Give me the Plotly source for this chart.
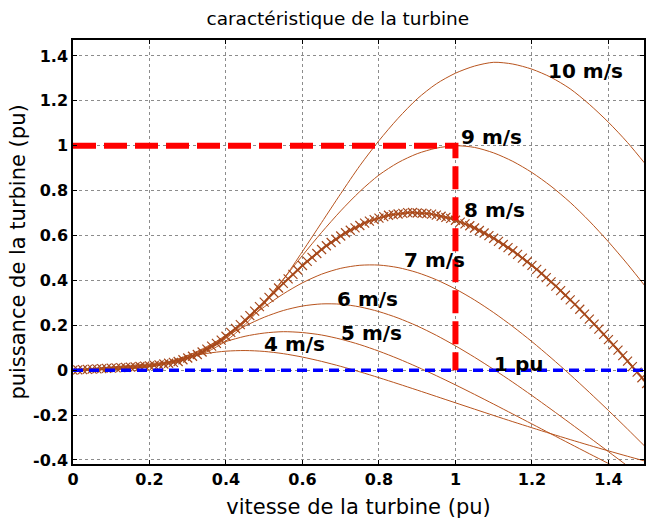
import plotly.graph_objects as go

# ---------------- data ----------------
speed_pu = [0.00, 0.05, 0.10, 0.15, 0.20, 0.25, 0.30, 0.35, 0.40, 0.45,
            0.50, 0.55, 0.60, 0.65, 0.70, 0.75, 0.80, 0.85, 0.90, 0.95,
            1.00, 1.05, 1.10, 1.15, 1.20, 1.25, 1.30, 1.35, 1.40, 1.45, 1.50]

p_4ms = [0, 0.0011, 0.0024, 0.0068, 0.0189, 0.0379, 0.0583, 0.0747, 0.0847, 0.0875,
         0.0835, 0.0735, 0.0583, 0.0392, 0.0170, -0.0074, -0.0335, -0.0608, -0.0887, -0.1170,
         -0.1454, -0.1737, -0.2018, -0.2295, -0.2566, -0.2832, -0.3093, -0.3347, -0.3595, -0.3836, -0.4070]
p_5ms = [0, 0.0018, 0.0035, 0.0069, 0.0163, 0.0369, 0.0661, 0.0983, 0.1278, 0.1511,
         0.1654, 0.1715, 0.1676, 0.1567, 0.1381, 0.1139, 0.0845, 0.0512, 0.0146, -0.0245,
         -0.0655, -0.1080, -0.1513, -0.1954, -0.2397, -0.2840, -0.3283, -0.3722, -0.4157, -0.4588, -0.5012]
p_6ms = [0, 0.0026, 0.0051, 0.0082, 0.0152, 0.0323, 0.0637, 0.1052, 0.1515, 0.1968,
         0.2359, 0.2659, 0.2858, 0.2952, 0.2940, 0.2818, 0.2609, 0.2323, 0.1969, 0.1552,
         0.1084, 0.0575, 0.0032, -0.0537, -0.1131, -0.1742, -0.2365, -0.2995, -0.3630, -0.4269, -0.4908]
p_7ms = [0, 0.0035, 0.0068, 0.0106, 0.0166, 0.0303, 0.0580, 0.1012, 0.1569, 0.2192,
         0.2819, 0.3399, 0.3893, 0.4277, 0.4538, 0.4673, 0.4682, 0.4571, 0.4349, 0.4029,
         0.3617, 0.3126, 0.2565, 0.1944, 0.1271, 0.0552, -0.0202, -0.0987, -0.1796, -0.2625, -0.3472]
p_9ms = [0, 0.0058, 0.0115, 0.0173, 0.0237, 0.0326, 0.0512, 0.0870, 0.1418, 0.2151,
         0.3044, 0.4059, 0.5112, 0.6137, 0.7097, 0.7961, 0.8694, 0.9246, 0.9645, 0.9891,
         1.0000, 0.9924, 0.9679, 0.9302, 0.8805, 0.8194, 0.7475, 0.6644, 0.5720, 0.4722, 0.3658]
p_10ms = [0, 0.0071, 0.0142, 0.0213, 0.0284, 0.0381, 0.0549, 0.0815, 0.1302, 0.2036,
          0.2951, 0.4037, 0.5289, 0.6576, 0.7864, 0.9110, 1.0225, 1.1222, 1.2088, 1.2757,
          1.3231, 1.3549, 1.3716, 1.3638, 1.3410, 1.3045, 1.2534, 1.1845, 1.1045, 1.0140, 0.9114]

# 8 m/s operating curve (densely sampled, drawn with markers)
speed_fine = [0.0000, 0.0125, 0.0250, 0.0375, 0.0500, 0.0625, 0.0750, 0.0875, 0.1000, 0.1125,
              0.1250, 0.1375, 0.1500, 0.1625, 0.1750, 0.1875, 0.2000, 0.2125, 0.2250, 0.2375,
              0.2500, 0.2625, 0.2750, 0.2875, 0.3000, 0.3125, 0.3250, 0.3375, 0.3500, 0.3625,
              0.3750, 0.3875, 0.4000, 0.4125, 0.4250, 0.4375, 0.4500, 0.4625, 0.4750, 0.4875,
              0.5000, 0.5125, 0.5250, 0.5375, 0.5500, 0.5625, 0.5750, 0.5875, 0.6000, 0.6125,
              0.6250, 0.6375, 0.6500, 0.6625, 0.6750, 0.6875, 0.7000, 0.7125, 0.7250, 0.7375,
              0.7500, 0.7625, 0.7750, 0.7875, 0.8000, 0.8125, 0.8250, 0.8375, 0.8500, 0.8625,
              0.8750, 0.8875, 0.9000, 0.9125, 0.9250, 0.9375, 0.9500, 0.9625, 0.9750, 0.9875,
              1.0000, 1.0125, 1.0250, 1.0375, 1.0500, 1.0625, 1.0750, 1.0875, 1.1000, 1.1125,
              1.1250, 1.1375, 1.1500, 1.1625, 1.1750, 1.1875, 1.2000, 1.2125, 1.2250, 1.2375,
              1.2500, 1.2625, 1.2750, 1.2875, 1.3000, 1.3125, 1.3250, 1.3375, 1.3500, 1.3625,
              1.3750, 1.3875, 1.4000, 1.4125, 1.4250, 1.4375, 1.4500, 1.4625, 1.4750, 1.4875,
              1.5000]
p_8ms = [0, 0.0011, 0.0023, 0.0034, 0.0045, 0.0057, 0.0068, 0.0080, 0.0091, 0.0102,
         0.0114, 0.0125, 0.0136, 0.0148, 0.0163, 0.0179, 0.0195, 0.0212, 0.0237, 0.0274,
         0.0310, 0.0347, 0.0386, 0.0464, 0.0542, 0.0620, 0.0698, 0.0810, 0.0939, 0.1068,
         0.1197, 0.1338, 0.1511, 0.1684, 0.1857, 0.2030, 0.2227, 0.2428, 0.2628, 0.2829,
         0.3033, 0.3242, 0.3451, 0.3660, 0.3868, 0.4067, 0.4265, 0.4465, 0.4664, 0.4847,
         0.5024, 0.5200, 0.5376, 0.5543, 0.5687, 0.5833, 0.5978, 0.6122, 0.6232, 0.6339,
         0.6446, 0.6553, 0.6638, 0.6706, 0.6774, 0.6842, 0.6903, 0.6931, 0.6959, 0.6987,
         0.7016, 0.7023, 0.7002, 0.6990, 0.6978, 0.6952, 0.6905, 0.6856, 0.6808, 0.6761,
         0.6679, 0.6597, 0.6515, 0.6433, 0.6334, 0.6221, 0.6110, 0.5997, 0.5879, 0.5739,
         0.5599, 0.5459, 0.5319, 0.5159, 0.4995, 0.4830, 0.4666, 0.4492, 0.4306, 0.4121,
         0.3934, 0.3748, 0.3543, 0.3339, 0.3134, 0.2931, 0.2716, 0.2495, 0.2275, 0.2054,
         0.1831, 0.1596, 0.1362, 0.1127, 0.0893, 0.0650, 0.0404, 0.0158, -0.0088, -0.0338,
         -0.0593]

rated_speed = 1.0
rated_power = 1.0

curve_labels = ["4 m/s", "5 m/s", "6 m/s", "7 m/s", "8 m/s", "9 m/s", "10 m/s", "1 pu"]
label_x = [0.580, 0.780, 0.771, 0.944, 1.103, 1.093, 1.339, 1.165]
label_y = [0.116, 0.164, 0.318, 0.491, 0.713, 1.040, 1.333, 0.029]

x_tickvals = [0, 0.2, 0.4, 0.6, 0.8, 1.0, 1.2, 1.4]
x_ticktext = ["0", "0.2", "0.4", "0.6", "0.8", "1", "1.2", "1.4"]
y_tickvals = [-0.4, -0.2, 0, 0.2, 0.4, 0.6, 0.8, 1.0, 1.2, 1.4]
y_ticktext = ["-0.4", "-0.2", "0", "0.2", "0.4", "0.6", "0.8", "1", "1.2", "1.4"]

# ---------------- styles ----------------
X_RANGE = [0, 1.493]
Y_RANGE = [-0.418, 1.471]
CURVE = "rgb(184,84,30)"
MARK = "rgb(165,72,28)"
FONT = "DejaVu Sans"

fig = go.Figure()

for ys in [p_4ms, p_5ms, p_6ms, p_7ms, p_9ms, p_10ms]:
    fig.add_trace(go.Scatter(x=speed_pu, y=ys, mode="lines",
                             line=dict(color=CURVE, width=1, shape="spline", smoothing=0.8),
                             showlegend=False, hoverinfo="skip"))

fig.add_trace(go.Scatter(x=speed_fine, y=p_8ms, mode="lines+markers",
                         line=dict(color=CURVE, width=2, shape="spline", smoothing=0.8),
                         marker=dict(symbol="x-thin", size=9,
                                     line=dict(color=MARK, width=1.2)),
                         showlegend=False, hoverinfo="skip"))

# zero-power reference (blue dashed)
fig.add_trace(go.Scatter(x=[0, X_RANGE[1]], y=[0, 0], mode="lines",
                         line=dict(color="rgb(0,0,255)", width=3.5, dash="10px,6px"),
                         showlegend=False, hoverinfo="skip"))

# rated point (red dashed)
fig.add_trace(go.Scatter(x=[0, rated_speed, rated_speed], y=[rated_power, rated_power, 0],
                         mode="lines",
                         line=dict(color="rgb(255,0,0)", width=6, dash="23px,8px"),
                         showlegend=False, hoverinfo="skip"))

for t, xx, yy in zip(curve_labels, label_x, label_y):
    fig.add_annotation(x=xx, y=yy, xref="x", yref="y", text=t, showarrow=False,
                       font=dict(family=FONT, size=20, color="black", weight="bold"))

axis_common = dict(
    ticks="inside", ticklen=4, tickcolor="black", tickwidth=1,
    showline=True, linecolor="black", linewidth=1.5, mirror="allticks",
    showgrid=True, gridcolor="rgb(140,140,140)", gridwidth=1, griddash="dot",
    zeroline=False, automargin=False,
    tickfont=dict(family=FONT, size=16, color="black", weight="bold"),
)

fig.update_layout(
    width=646, height=519,
    margin=dict(l=73, r=2, t=40, b=55),
    paper_bgcolor="white", plot_bgcolor="white",
    title=dict(text="caractéristique de la turbine", x=0.523, xanchor="center",
               y=0.965, yanchor="middle", xref="container", yref="container",
               font=dict(family=FONT, size=18.5, color="black")),
    xaxis=dict(range=X_RANGE, tickvals=x_tickvals, ticktext=x_ticktext,
               title=dict(text="vitesse de la turbine (pu)", standoff=12,
                          font=dict(family=FONT, size=21, color="black")),
               **axis_common),
    yaxis=dict(range=Y_RANGE, tickvals=y_tickvals, ticktext=y_ticktext,
               title=dict(text="puissance de la turbine (pu)", standoff=2,
                          font=dict(family=FONT, size=21, color="black")),
               **axis_common),
)

fig.write_html("out.html", config={"displayModeBar": False},
               post_script="document.body.style.margin='0';document.body.style.overflow='hidden';")
